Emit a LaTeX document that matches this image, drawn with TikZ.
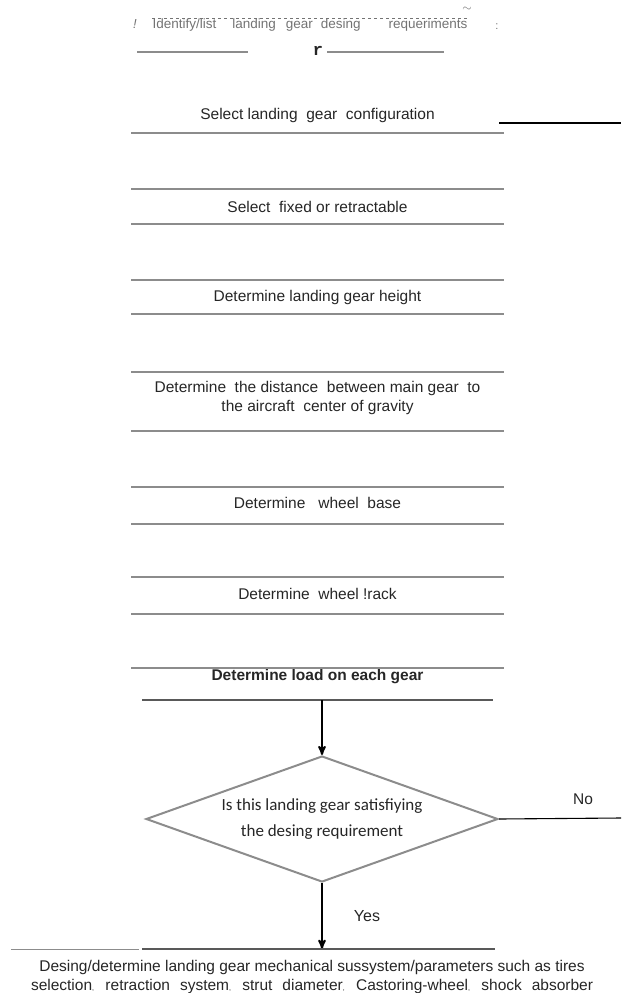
\documentclass[tikz,border=0pt]{standalone}
\usepackage{fontspec}
\setmainfont{Liberation Sans}
\newfontfamily\calibfont{Carlito}
\newfontfamily\slabfont{Liberation Mono}
\usetikzlibrary{arrows,shapes.geometric}
\definecolor{ink}{gray}{0.15}
\definecolor{rulegray}{gray}{0.55}
\definecolor{fadegray}{gray}{0.45}
\newcommand\stagefont{\fontsize{15.5}{19}\selectfont}

\begin{document}
\begin{tikzpicture}[x=1pt,y=-1pt,>=stealth',semithick,
    stage/.style={inner sep=0pt,align=center,font=\stagefont,text=ink},
    rule/.style={draw=rulegray,line width=1.4pt},
    flow/.style={->,draw=black,line width=2pt},
    link/.style={draw=black,line width=1.1pt},
    decision/.style={diamond,draw=rulegray,line width=2pt,aspect=2.8,
      minimum width=352pt,minimum height=126pt,inner sep=0pt,align=center,
      text=ink,font=\calibfont\fontsize{17}{26}\selectfont}]
  \useasboundingbox (0,0) rectangle (621,993);

  % scanned heading
  \node[stage,font=\fontsize{13.5}{15}\selectfont,text=fadegray] (ident) at (310,25)
    {Identify/list\hspace{16pt}landing\hspace{10pt}gear\hspace{8pt}desing\hspace{28pt}requeriments};
  \draw[fadegray,dashed,line width=0.6pt] (ident.north west) -- (ident.north east);
  \node[text=fadegray,font=\itshape\fontsize{13}{13}\selectfont] (bang) at (135,24) {!};
  \node[text=fadegray,font=\fontsize{12}{12}\selectfont] (tilde) at (467,9) {$\sim$};
  \node[text=fadegray,font=\fontsize{11}{11}\selectfont] (colon) at (497,27) {:};
  \draw[rule,line width=2.2pt] (137,52) -- (248,52);
  \draw[rule,line width=2.2pt] (327,52) -- (444,52);
  \node[font=\slabfont\bfseries\fontsize{17}{17}\selectfont,text=ink] (rmark) at (318,51) {r};

  % steps
  \node[stage] (conf)   at (317.5,115) {Select landing\ \ gear\ \ configuration};
  \node[stage] (fixed)  at (317.5,207) {Select\ \ fixed or retractable};
  \node[stage] (height) at (317.5,297) {Determine landing gear height};
  \node[stage] (cg)     at (317.5,398) {Determine\ \ the distance\ \ between main gear\ \ to\\the aircraft\ \ center of gravity};
  \node[stage] (base)   at (317.5,503) {Determine\ \ \ wheel\ \ base};
  \node[stage] (track)  at (317.5,594) {Determine\ \ wheel !rack};
  \node[stage,font=\stagefont\bfseries,minimum height=46pt] (load) at (317.5,677) {Determine load on each gear};

  \draw[rule,line width=2.4pt] (131,133) -- (504,133);
  \foreach \y in {189,224,280,314,372,431,487,524,577,614,668}
    \draw[rule] (131,\y) -- (504,\y);
  \draw[rule,draw=black!65] (142,700) -- (493,700);

  \coordinate (backin) at (499,123);
  \coordinate (backend) at (621,123);
  \draw[link] (backin) -- (backend);

  % check
  \node[decision] (dia) at (322,819) {Is this landing gear satisfiying\\the desing requirement};
  \draw[flow] (load.south -| dia.north) -- (dia.north);

  \node[stage] (no) at (583,799) {No};
  \coordinate (noend) at (621,818);
  \draw[link] (dia.east) -- (noend);

  \node[stage,minimum height=56pt] (mech) at (312,977)
    {Desing/determine landing gear mechanical sussystem/parameters such as tires\\
     \makebox[562pt][s]{selection{\scriptsize,} retraction system{\scriptsize,} strut diameter{\scriptsize,} Castoring-wheel{\scriptsize,} shock absorber}};
  \draw[flow] (dia.south) -- (dia.south |- mech.north);
  \node[stage,font=\fontsize{16}{16}\selectfont] (yes) at (367,916) {Yes};
  \draw[rule,line width=1pt] (11,949) -- (139,949);
  \draw[rule,draw=black!65] (142,949) -- (495,949);
\end{tikzpicture}
\end{document}
